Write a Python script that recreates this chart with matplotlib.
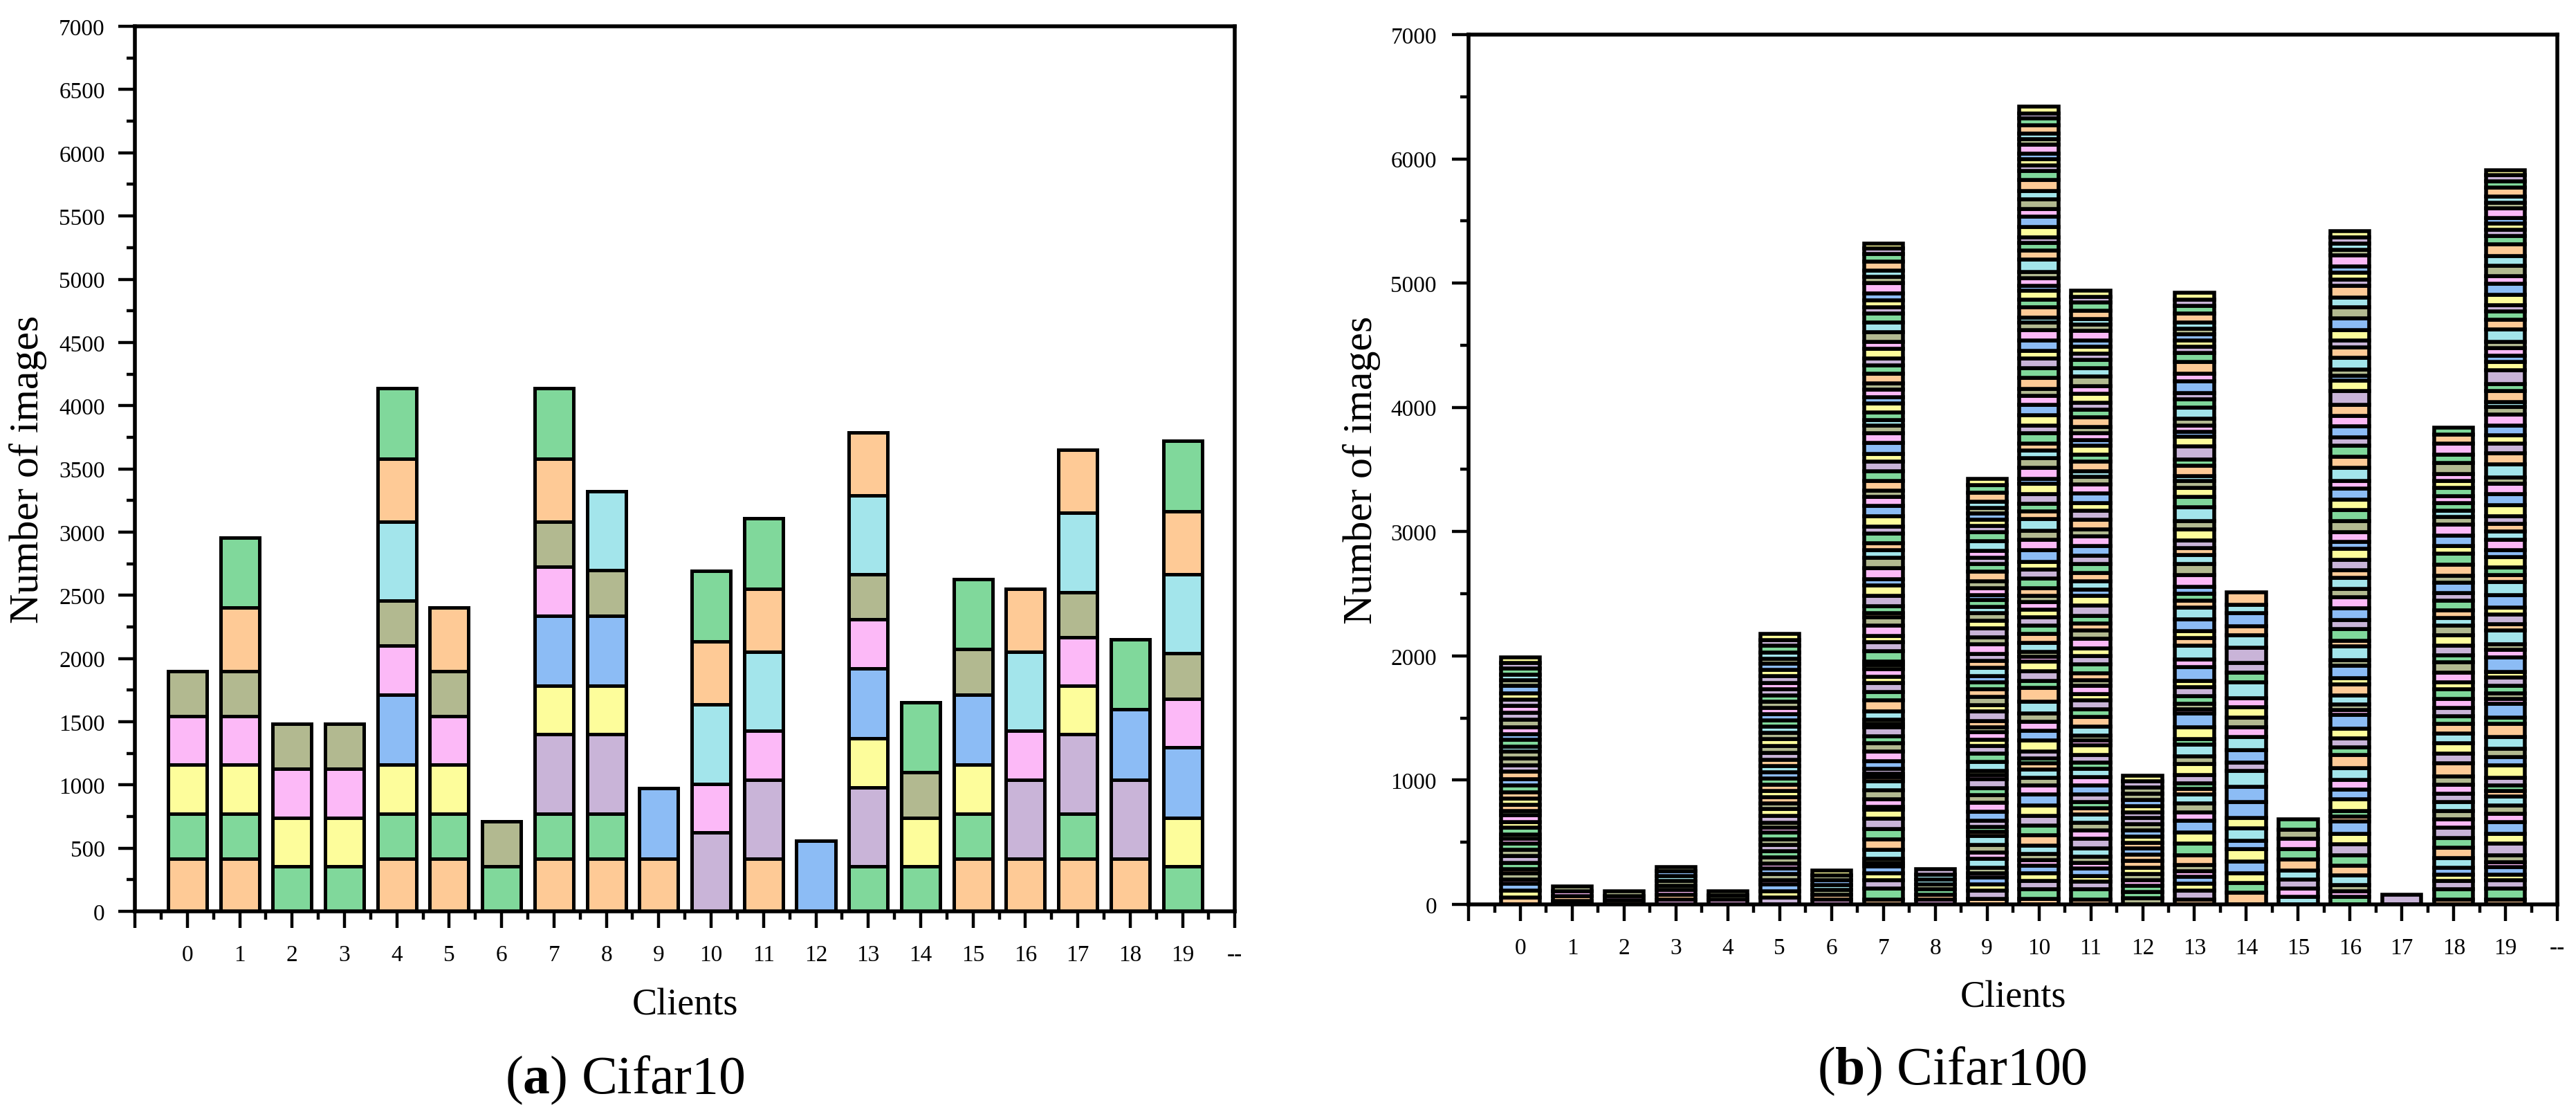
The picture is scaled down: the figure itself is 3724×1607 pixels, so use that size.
import numpy as np
import matplotlib
matplotlib.use("Agg")
import matplotlib.pyplot as plt
from matplotlib.ticker import MultipleLocator, FixedLocator

plt.rcParams["font.family"] = ["Liberation Serif", "DejaVu Serif"]
plt.rcParams["mathtext.fontset"] = "custom"
plt.rcParams["mathtext.rm"] = "Liberation Serif"
plt.rcParams["mathtext.bf"] = "Liberation Serif:bold"

CLIENTS = list(range(20))
X_TICK_LABELS = [""] + [str(c) for c in CLIENTS] + ["--"]

# pastel colours, one per class, the cycle repeats every 8 classes
CLASS_COLORS = ["#FECA96", "#80D89B", "#C9B4D8", "#FDFD9B",
                "#8CBCF5", "#FCB9F7", "#B2B990", "#A3E5EB"]

# --- Cifar10: images of each class held by every client (clients 0..19) ---
C10_CLASS0 = [417, 417, 0, 0, 417, 417, 0, 417, 417, 417, 0, 417, 0, 0, 0, 417, 417, 417, 417, 0]
C10_CLASS1 = [357, 357, 357, 357, 357, 357, 357, 357, 357, 0, 0, 0, 0, 357, 357, 357, 0, 357, 0, 357]
C10_CLASS2 = [0, 0, 0, 0, 0, 0, 0, 625, 625, 0, 625, 625, 0, 625, 0, 0, 625, 625, 625, 0]
C10_CLASS3 = [385, 385, 385, 385, 385, 385, 0, 385, 385, 0, 0, 0, 0, 385, 385, 385, 0, 385, 0, 385]
C10_CLASS4 = [0, 0, 0, 0, 556, 0, 0, 556, 556, 556, 0, 0, 556, 556, 0, 556, 0, 0, 556, 556]
C10_CLASS5 = [385, 385, 385, 385, 385, 385, 0, 385, 0, 0, 385, 385, 0, 385, 0, 0, 385, 385, 0, 385]
C10_CLASS6 = [357, 357, 357, 357, 357, 357, 357, 357, 357, 0, 0, 0, 0, 357, 357, 357, 0, 357, 0, 357]
C10_CLASS7 = [0, 0, 0, 0, 625, 0, 0, 0, 625, 0, 625, 625, 0, 625, 0, 0, 625, 625, 0, 625]
C10_CLASS8 = [0, 500, 0, 0, 500, 500, 0, 500, 0, 0, 500, 500, 0, 500, 0, 0, 500, 500, 0, 500]
C10_CLASS9 = [0, 556, 0, 0, 556, 0, 0, 556, 0, 0, 556, 556, 0, 0, 556, 556, 0, 0, 556, 556]
C10_CLASSES = [C10_CLASS0, C10_CLASS1, C10_CLASS2, C10_CLASS3, C10_CLASS4,
               C10_CLASS5, C10_CLASS6, C10_CLASS7, C10_CLASS8, C10_CLASS9]

# --- Cifar100: images per class on each client (sparse clients as {class: n}) ---
C100_CLIENT0 = {8: 57, 11: 52, 12: 55, 13: 35, 14: 50, 16: 35, 17: 50, 18: 57, 22: 50, 25: 50,
                29: 35, 30: 35, 33: 55, 35: 45, 37: 55, 38: 37, 40: 50, 43: 50, 48: 50, 49: 57,
                52: 50, 56: 57, 58: 50, 62: 55, 70: 57, 71: 42, 73: 55, 76: 45, 77: 55, 78: 60,
                82: 55, 85: 55, 90: 50, 91: 55, 92: 57, 94: 45, 95: 45, 97: 50, 98: 45, 99: 47}
C100_CLIENT1 = {13: 30, 16: 38, 37: 37, 46: 38}
C100_CLIENT2 = {8: 33, 29: 35, 54: 35}
C100_CLIENT3 = {5: 38, 8: 38, 13: 38, 14: 38, 22: 38, 23: 38, 28: 38, 30: 36}
C100_CLIENT4 = {5: 36, 14: 36, 22: 36}
C100_CLIENT5 = {2: 55, 3: 50, 4: 55, 5: 37, 6: 45, 12: 50, 13: 37, 14: 50, 17: 50, 18: 50,
                22: 45, 25: 55, 29: 40, 30: 40, 34: 52, 35: 55, 38: 45, 40: 50, 43: 50, 48: 50,
                49: 50, 52: 55, 55: 50, 56: 50, 58: 55, 62: 55, 67: 52, 70: 55, 71: 50, 73: 50,
                76: 47, 77: 50, 78: 50, 81: 50, 82: 50, 85: 50, 90: 55, 91: 50, 92: 50, 94: 42,
                95: 50, 97: 55, 98: 45, 99: 50}
C100_CLIENT6 = {13: 39, 16: 39, 22: 39, 23: 39, 28: 39, 30: 40, 35: 40}
C100_CLIENT7 = [40, 87, 67, 57, 55, 30, 30, 75, 80, 87,
                80, 77, 22, 60, 70, 75, 30, 30, 40, 0,
                62, 75, 67, 0, 0, 57, 72, 0, 0, 30,
                30, 70, 85, 70, 70, 52, 0, 62, 30, 0,
                30, 82, 72, 55, 0, 80, 70, 0, 30, 57,
                82, 85, 52, 85, 85, 62, 55, 77, 60, 82,
                80, 75, 50, 0, 80, 77, 77, 62, 87, 80,
                62, 42, 0, 60, 0, 75, 50, 60, 50, 0,
                80, 65, 55, 77, 0, 57, 80, 77, 0, 70,
                55, 55, 55, 82, 50, 50, 72, 60, 47, 40]
C100_CLIENT8 = {21: 40, 24: 40, 25: 40, 38: 40, 39: 40, 47: 40, 50: 45}
C100_CLIENT9 = [45, 0, 65, 50, 55, 33, 48, 69, 0, 0,
                0, 0, 0, 55, 60, 69, 33, 40, 53, 0,
                69, 72, 62, 0, 0, 57, 72, 0, 0, 33,
                33, 74, 0, 65, 62, 50, 0, 62, 40, 0,
                50, 0, 76, 53, 0, 0, 67, 0, 62, 55,
                0, 0, 50, 0, 0, 67, 55, 0, 57, 0,
                0, 76, 57, 0, 0, 0, 72, 62, 0, 0,
                62, 48, 0, 57, 0, 0, 38, 55, 53, 0,
                81, 62, 50, 0, 0, 57, 0, 74, 0, 74,
                50, 50, 50, 0, 45, 50, 74, 62, 0, 45]
C100_CLIENT10 = [45, 80, 62, 62, 60, 45, 50, 70, 80, 80,
                 80, 82, 90, 70, 62, 70, 45, 42, 55, 92,
                 75, 75, 67, 95, 110, 55, 75, 80, 0, 37,
                 42, 70, 75, 65, 70, 57, 0, 65, 50, 0,
                 57, 80, 75, 60, 95, 80, 75, 95, 60, 60,
                 82, 80, 40, 87, 82, 60, 55, 85, 60, 85,
                 85, 70, 57, 0, 85, 82, 77, 62, 85, 80,
                 60, 40, 87, 57, 0, 75, 37, 65, 50, 97,
                 72, 62, 47, 80, 87, 57, 80, 70, 89, 70,
                 45, 47, 45, 77, 40, 45, 67, 57, 37, 57]
C100_CLIENT11 = [40, 80, 65, 45, 62, 40, 50, 68, 0, 0,
                 80, 0, 0, 67, 62, 67, 50, 47, 62, 0,
                 72, 68, 0, 65, 0, 50, 65, 77, 0, 37,
                 42, 72, 77, 62, 68, 50, 0, 67, 45, 0,
                 55, 77, 65, 62, 0, 77, 67, 0, 57, 62,
                 80, 77, 55, 0, 0, 67, 62, 77, 62, 0,
                 80, 77, 57, 0, 80, 0, 68, 65, 77, 72,
                 60, 45, 77, 60, 0, 68, 47, 57, 50, 0,
                 75, 62, 55, 75, 0, 60, 77, 68, 0, 65,
                 50, 57, 52, 77, 50, 45, 68, 62, 47, 50]
C100_CLIENT12 = {6: 50, 9: 50, 17: 48, 21: 48, 22: 50, 27: 50, 32: 55, 40: 48, 44: 50, 48: 48,
                 51: 50, 52: 48, 54: 50, 58: 50, 66: 48, 67: 50, 68: 50, 70: 48, 78: 50, 90: 48,
                 99: 47}
C100_CLIENT13 = [40, 0, 70, 57, 57, 42, 50, 0, 80, 95,
                 0, 87, 95, 67, 72, 75, 40, 50, 62, 90,
                 0, 0, 62, 95, 0, 45, 0, 92, 112, 37,
                 42, 0, 0, 62, 70, 52, 112, 62, 0, 110,
                 60, 0, 0, 57, 97, 0, 0, 92, 57, 57,
                 0, 0, 55, 95, 87, 75, 55, 0, 62, 87,
                 0, 0, 67, 110, 0, 87, 0, 70, 0, 0,
                 55, 40, 82, 50, 110, 75, 37, 55, 52, 90,
                 0, 67, 50, 0, 95, 62, 0, 0, 92, 75,
                 50, 50, 50, 0, 45, 47, 75, 62, 47, 55]
C100_CLIENT14 = {0: 93, 1: 80, 3: 75, 4: 97, 11: 102, 12: 67, 15: 100, 19: 82, 20: 129, 28: 124,
                 31: 124, 34: 70, 36: 100, 39: 104, 45: 77, 46: 80, 51: 82, 53: 75, 55: 124,
                 57: 82, 58: 75, 66: 122, 71: 100, 72: 75, 76: 104, 79: 70, 80: 100}
C100_CLIENT15 = {7: 60, 13: 70, 18: 72, 23: 72, 24: 85, 25: 85, 29: 85, 30: 72, 33: 85}
C100_CLIENT16 = [0, 60, 0, 0, 0, 45, 52, 75, 82, 82,
                 90, 80, 100, 0, 0, 0, 42, 45, 0, 95,
                 75, 77, 0, 95, 105, 62, 72, 82, 110, 37,
                 45, 75, 87, 0, 0, 52, 100, 0, 45, 110,
                 47, 90, 77, 0, 92, 87, 70, 90, 57, 0,
                 87, 87, 55, 82, 87, 0, 0, 87, 0, 87,
                 87, 60, 0, 110, 87, 90, 67, 0, 87, 85,
                 0, 0, 87, 0, 112, 82, 40, 0, 52, 95,
                 80, 0, 57, 87, 95, 0, 87, 75, 95, 0,
                 50, 57, 52, 87, 47, 50, 0, 0, 50, 50]
C100_CLIENT17 = {66: 77}
C100_CLIENT18 = [40, 82, 65, 50, 60, 0, 0, 75, 82, 80,
                 85, 0, 0, 65, 65, 75, 0, 0, 67, 0,
                 0, 70, 67, 0, 110, 0, 75, 85, 0, 0,
                 0, 75, 82, 62, 62, 0, 0, 72, 0, 0,
                 0, 80, 0, 57, 0, 80, 80, 0, 0, 57,
                 80, 80, 0, 0, 80, 62, 57, 82, 57, 0,
                 87, 0, 57, 0, 87, 87, 0, 62, 87, 87,
                 62, 50, 0, 62, 0, 0, 0, 57, 0, 0,
                 0, 62, 0, 60, 0, 55, 87, 0, 0, 70,
                 0, 0, 0, 85, 0, 0, 75, 52, 0, 0]
C100_CLIENT19 = [40, 87, 70, 42, 62, 37, 57, 0, 0, 0,
                 92, 80, 95, 67, 67, 75, 42, 45, 60, 100,
                 70, 0, 62, 95, 110, 50, 0, 0, 112, 37,
                 42, 0, 0, 62, 70, 45, 115, 62, 45, 112,
                 50, 0, 75, 57, 102, 0, 0, 102, 57, 60,
                 0, 87, 55, 82, 0, 67, 62, 0, 62, 87,
                 90, 82, 50, 110, 85, 0, 77, 67, 80, 92,
                 57, 42, 87, 55, 112, 70, 50, 57, 55, 100,
                 75, 65, 55, 82, 90, 60, 85, 75, 95, 70,
                 45, 50, 47, 80, 45, 45, 75, 52, 47, 42]
C100_CLIENTS = [C100_CLIENT0, C100_CLIENT1, C100_CLIENT2, C100_CLIENT3, C100_CLIENT4,
                C100_CLIENT5, C100_CLIENT6, C100_CLIENT7, C100_CLIENT8, C100_CLIENT9,
                C100_CLIENT10, C100_CLIENT11, C100_CLIENT12, C100_CLIENT13, C100_CLIENT14,
                C100_CLIENT15, C100_CLIENT16, C100_CLIENT17, C100_CLIENT18, C100_CLIENT19]


def class_counts(entry, n_classes=100):
    # dict -> dense vector, list stays as it is
    counts = np.zeros(n_classes)
    if isinstance(entry, dict):
        for k, v in entry.items():
            counts[k] = v
    else:
        counts[:len(entry)] = entry
    return counts


def draw_stacked(ax, matrix, width, lw):
    # matrix: classes x clients
    x = np.array(CLIENTS, dtype=float)
    bottom = np.zeros(len(CLIENTS))
    for k, row in enumerate(matrix):
        row = np.asarray(row, dtype=float)
        m = row > 0
        if m.any():
            ax.bar(x[m], row[m], width=width, bottom=bottom[m],
                   color=CLASS_COLORS[k % len(CLASS_COLORS)],
                   edgecolor="black", linewidth=lw, zorder=2)
        bottom += row


def style_axes(ax, major, minor, ypad, xlab_y, ylab_x):
    ax.set_xlim(-1, 20)
    ax.set_ylim(0, 7000)
    ax.set_xticks(range(-1, 21))
    ax.set_xticklabels(X_TICK_LABELS)
    ax.xaxis.set_minor_locator(FixedLocator(np.arange(-0.5, 20, 1.0)))
    ax.yaxis.set_major_locator(MultipleLocator(major))
    ax.yaxis.set_minor_locator(MultipleLocator(minor))
    ax.tick_params(which="major", direction="out", length=8.6, width=1.6, labelsize=12)
    ax.tick_params(which="minor", direction="out", length=4.3, width=1.6)
    ax.tick_params(axis="x", which="major", pad=8.5)
    ax.tick_params(axis="y", which="major", pad=ypad)
    for sp in ax.spines.values():
        sp.set_linewidth(2.0)
        sp.set_zorder(3)

    ax.set_xlabel("Clients", fontsize=19.5)
    ax.xaxis.set_label_coords(0.5, xlab_y)
    ax.xaxis.label.set_va("center")
    ax.set_ylabel("Number of images", fontsize=21.5)
    ax.yaxis.set_label_coords(ylab_x, 0.5)
    ax.yaxis.label.set_va("center")


fig = plt.figure(figsize=(18.62, 8.04), dpi=200)

# (a) Cifar10
ax1 = fig.add_axes([0.0524, 0.1803, 0.4270, 0.7954])
draw_stacked(ax1, C10_CLASSES, width=0.74, lw=1.8)
style_axes(ax1, 500, 250, ypad=7, xlab_y=-0.1056, ylab_x=-0.0975)

# (b) Cifar100
ax2 = fig.add_axes([0.5701, 0.1866, 0.4227, 0.7817])
c100 = np.array([class_counts(c) for c in C100_CLIENTS]).T   # classes x clients
draw_stacked(ax2, c100, width=0.75, lw=2.0)
style_axes(ax2, 1000, 500, ypad=8, xlab_y=-0.1066, ylab_x=-0.0985)

fig.text(0.2425, 0.0174, r"($\mathbf{a}$) Cifar10", ha="center", va="baseline", fontsize=28)
fig.text(0.7578, 0.0255, r"($\mathbf{b}$) Cifar100", ha="center", va="baseline", fontsize=28)

fig.savefig("out.png", dpi=200, facecolor="white")
